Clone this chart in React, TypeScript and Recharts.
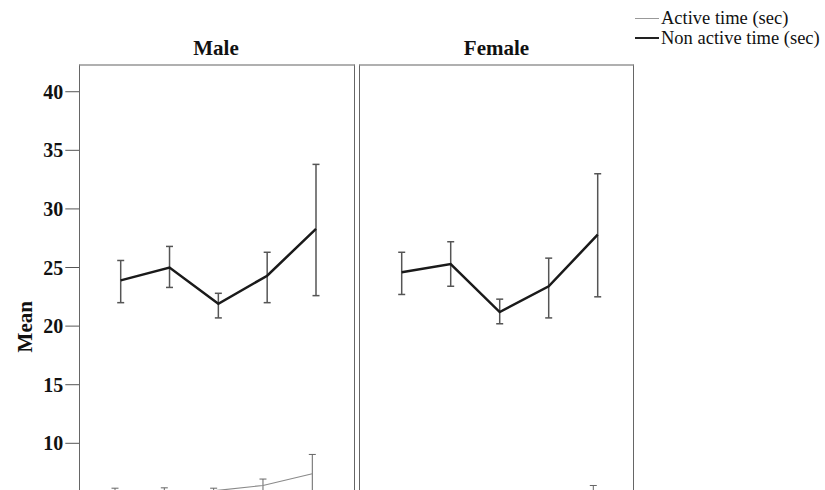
import React from "react";
import { ComposedChart, Line, XAxis, YAxis, ErrorBar } from "recharts";

// five groups along x (axis is not labelled in the figure)
const groups = ["1", "2", "3", "4", "5"];

const maleNonMean = [23.9, 25.0, 21.9, 24.3, 28.3];
const maleNonLow = [22.0, 23.3, 20.7, 22.0, 22.6];
const maleNonHigh = [25.6, 26.8, 22.8, 26.3, 33.8];

const maleActMean = [5.9, 5.95, 5.95, 6.4, 7.4];
const maleActLow = [5.6, 5.65, 5.7, 5.85, 5.75];
const maleActHigh = [6.17, 6.2, 6.17, 6.95, 9.05];

const femaleNonMean = [24.6, 25.3, 21.2, 23.4, 27.8];
const femaleNonLow = [22.7, 23.4, 20.2, 20.7, 22.5];
const femaleNonHigh = [26.3, 27.2, 22.3, 25.8, 33.0];

const femaleActMean = [4.9, 5.0, 4.8, 5.1, 5.5];
const femaleActLow = [4.5, 4.6, 4.4, 4.6, 4.6];
const femaleActHigh = [5.3, 5.4, 5.2, 5.6, 6.4];

// 0 and 5 fall below the visible crop
const yTicks = [10, 15, 20, 25, 30, 35, 40];
const yMax = 42.28;

function buildRows(
  nonMean: number[], nonLow: number[], nonHigh: number[],
  actMean: number[], actLow: number[], actHigh: number[],
) {
  return groups.map((g, i) => ({
    group: g,
    non: nonMean[i],
    nonErr: [nonMean[i] - nonLow[i], nonHigh[i] - nonMean[i]],
    act: actMean[i],
    actErr: [actMean[i] - actLow[i], actHigh[i] - actMean[i]],
  }));
}

const maleRows = buildRows(maleNonMean, maleNonLow, maleNonHigh, maleActMean, maleActLow, maleActHigh);
const femaleRows = buildRows(femaleNonMean, femaleNonLow, femaleNonHigh, femaleActMean, femaleActLow, femaleActHigh);

const serif = "'Liberation Serif', 'Times New Roman', serif";
const sideStroke = "#666";

function MeanLabel({ viewBox }: any) {
  const cx = viewBox.x + 25;
  const cy = viewBox.y + viewBox.height / 2 + 14;
  return (
    <text
      x={cx} y={cy}
      transform={`rotate(-90 ${cx} ${cy})`}
      textAnchor="middle"
      dominantBaseline="central"
      fontFamily={serif}
      fontWeight={700}
      fontSize={21}
      fill="#111"
    >
      Mean
    </text>
  );
}

function Panel({ rows, width, yWidth, marginRight, showTicks, padNon, padAct }: any) {
  return (
    <ComposedChart
      width={width}
      height={600}
      data={rows}
      margin={{ top: 65, right: marginRight, bottom: 39.5, left: 0 }}
    >
      <XAxis xAxisId="n" dataKey="group" hide padding={padNon} />
      <XAxis xAxisId="a" dataKey="group" hide padding={padAct} />
      <YAxis
        type="number"
        domain={[0, yMax]}
        ticks={yTicks}
        allowDataOverflow
        width={yWidth}
        tick={showTicks ? { fontFamily: serif, fontWeight: 700, fontSize: 20, fill: "#111" } : false}
        tickLine={showTicks ? { stroke: "#555" } : false}
        tickSize={14}
        axisLine={false}
        label={showTicks ? <MeanLabel /> : undefined}
      />
      <Line
        xAxisId="a" dataKey="act" stroke="#8a8a8a" strokeWidth={1.2}
        dot={false} activeDot={false} isAnimationActive={false}
      >
        <ErrorBar dataKey="actErr" direction="y" width={3.5} stroke="#666" strokeWidth={1} isAnimationActive={false} />
      </Line>
      <Line
        xAxisId="n" dataKey="non" stroke="#1a1a1a" strokeWidth={2.5}
        dot={false} activeDot={false} isAnimationActive={false}
      >
        <ErrorBar dataKey="nonErr" direction="y" width={3.5} stroke="#555" strokeWidth={1.5} isAnimationActive={false} />
      </Line>
    </ComposedChart>
  );
}

function Frame({ left, width }: { left: number; width: number }) {
  return (
    <div style={{
      position: "absolute", left, top: 64, width, height: 500,
      boxSizing: "border-box",
      borderTop: "2px solid #b0b0b0",
      borderLeft: `1.5px solid ${sideStroke}`,
      borderRight: `1.5px solid ${sideStroke}`,
      pointerEvents: "none",
    }} />
  );
}

function LegendBox() {
  const row = (label: string, color: string, w: number) => (
    <div style={{ display: "flex", alignItems: "center", height: 20 }}>
      <div style={{ width: 24, height: 0, borderTop: `${w}px solid ${color}`, marginRight: 2 }} />
      <span style={{ fontFamily: serif, fontSize: 18.5, color: "#111", lineHeight: "20px" }}>{label}</span>
    </div>
  );
  return (
    <div style={{ position: "absolute", left: 635, top: 8 }}>
      {row("Active time (sec)", "#999", 1)}
      {row("Non active time (sec)", "#222", 2.5)}
    </div>
  );
}

const titleStyle: React.CSSProperties = {
  position: "absolute",
  top: 38,
  fontFamily: serif,
  fontWeight: 700,
  fontSize: 21,
  lineHeight: "21px",
  color: "#111",
  textAlign: "center",
};

export default function App() {
  return (
    <div style={{
      position: "fixed", left: 0, top: 0, width: 825, height: 490,
      overflow: "hidden", background: "#fff",
    }}>
      <div style={{ position: "absolute", left: 0, top: 0 }}>
        <Panel
          rows={maleRows} width={360} yWidth={79.3} marginRight={6.7} showTicks
          padNon={{ left: 41.4, right: 37.3 }} padAct={{ left: 35.7, right: 41 }}
        />
      </div>
      <div style={{ position: "absolute", left: 350, top: 0 }}>
        <Panel
          rows={femaleRows} width={290} yWidth={10} marginRight={7} showTicks={false}
          padNon={{ left: 41.7, right: 35.3 }} padAct={{ left: 36.5, right: 39.7 }}
        />
      </div>
      <Frame left={78.5} width={276} />
      <Frame left={359.2} width={275} />
      <div style={{ ...titleStyle, left: 79, width: 274 }}>Male</div>
      <div style={{ ...titleStyle, left: 360, width: 273 }}>Female</div>
      <LegendBox />
    </div>
  );
}
